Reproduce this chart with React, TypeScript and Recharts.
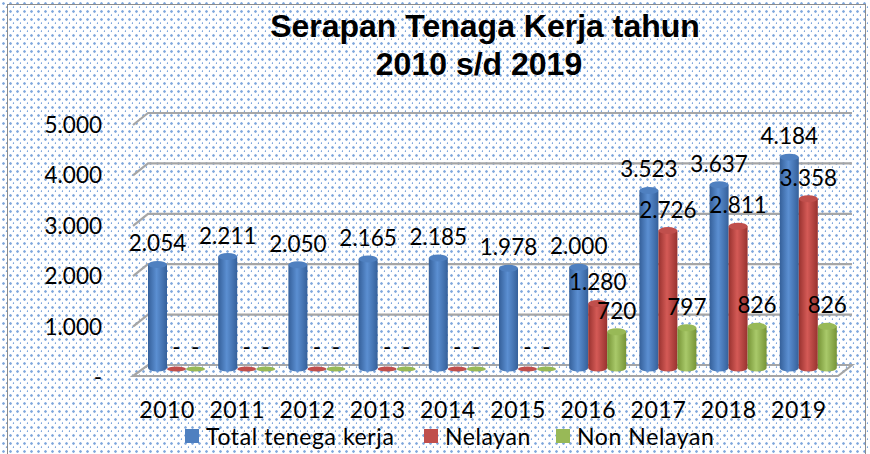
import React from 'react';
import { BarChart, Bar, XAxis, YAxis, CartesianGrid, LabelList, Legend } from 'recharts';

const years = ['2010', '2011', '2012', '2013', '2014', '2015', '2016', '2017', '2018', '2019'];
const totalTenagaKerja = [2054, 2211, 2050, 2165, 2185, 1978, 2000, 3523, 3637, 4184];
const nelayan = [0, 0, 0, 0, 0, 0, 1280, 2726, 2811, 3358];
const nonNelayan = [0, 0, 0, 0, 0, 0, 720, 797, 826, 826];
const yTicks = [0, 1000, 2000, 3000, 4000, 5000];
const seriesNames = ['Total tenega kerja', 'Nelayan', 'Non Nelayan'];

const data = years.map((y, i) => ({
  year: y,
  total: totalTenagaKerja[i],
  nelayan: nelayan[i],
  non: nonNelayan[i],
}));

const FONT = 'Lato, "Liberation Sans", sans-serif';

const palette = {
  blue: { edge: '#35609a', mid: '#5b8fd2', top: '#4f80c0' },
  red: { edge: '#98322f', mid: '#d45a56', top: '#c04f4c' },
  green: { edge: '#769436', mid: '#a9c96a', top: '#98b957' },
};

const fmt = (v: number) => {
  if (!v) return '-';
  const s = String(v);
  return s.length > 3 ? s.slice(0, s.length - 3) + '.' + s.slice(-3) : s;
};

const makeCyl = (key: 'blue' | 'red' | 'green') => (props: any) => {
  const { x, y, width, height } = props;
  if (x == null || width == null) return <g />;
  const rx = width / 2;
  const ry = 3.5;
  const h = Math.max(0, height || 0);
  const bottom = y + h;
  const c = palette[key];
  if (h < 1) {
    return <ellipse cx={x + rx} cy={bottom + 1} rx={rx} ry={2.5} fill={c.top} />;
  }
  return (
    <g>
      <path
        d={`M${x},${y} L${x},${bottom} A${rx},${ry} 0 0 0 ${x + width},${bottom} L${x + width},${y} Z`}
        fill={`url(#grad-${key})`}
      />
      <ellipse cx={x + rx} cy={y} rx={rx} ry={ry} fill={c.top} />
    </g>
  );
};

const renderLabel = (props: any) => {
  const { x, y, width, value } = props;
  return (
    <text x={x + width / 2} y={y - 13} textAnchor="middle" fontSize={22.5} fontFamily={FONT} fill="#000">
      {fmt(value)}
    </text>
  );
};

const gridLine = (props: any) => {
  const { x1, x2, y1, y, height, key } = props;
  const yy = y1;
  const isFloor = y != null && height != null ? Math.abs(yy - (y + height)) < 1.5 : yy > 360;
  const L = x1 - 8;
  const Lb = x1 + 7;
  const R = x2 + 9;
  if (isFloor) {
    return (
      <path
        key={key}
        d={`M${Lb},${yy - 3} L${R},${yy - 3} L${R - 14},${yy + 8} L${L},${yy + 8} Z`}
        fill="none"
        stroke="#a6a6a6"
        strokeWidth={2.2}
      />
    );
  }
  return (
    <path
      key={key}
      d={`M${L},${yy + 9} L${Lb},${yy - 3} L${R},${yy - 3}`}
      fill="none"
      stroke="#a6a6a6"
      strokeWidth={2.2}
    />
  );
};

const YTick = (props: any) => {
  const { x, y, payload } = props;
  return (
    <text x={x} y={y + 17} textAnchor="end" fontSize={22.5} fontFamily={FONT} fill="#000">
      {fmt(payload.value)}
    </text>
  );
};

const XTick = (props: any) => {
  const { x, y, payload } = props;
  return (
    <text x={x - 9} y={y - 1} dy="0.71em" textAnchor="middle" fontSize={23} letterSpacing={0.6} fontFamily={FONT} fill="#000">
      {payload.value}
    </text>
  );
};

const legendColors = [palette.blue.top, palette.red.top, palette.green.top];
const legendLefts = [185, 424, 556];

const LegendContent = () => (
  <div
    style={{
      position: 'relative',
      height: 30,
      fontFamily: FONT,
      fontSize: 23,
      letterSpacing: 0.6,
      color: '#000',
      lineHeight: '24px',
    }}
  >
    {seriesNames.map((n, i) => (
      <div
        key={n}
        style={{ position: 'absolute', left: legendLefts[i], top: 0, display: 'flex', alignItems: 'center', whiteSpace: 'nowrap' }}
      >
        <span style={{ width: 14, height: 14, background: legendColors[i], display: 'inline-block', marginRight: 7 }} />
        <span>{n}</span>
      </div>
    ))}
  </div>
);

export default function App() {
  return (
    <div
      style={{
        position: 'absolute',
        left: 0,
        top: 0,
        width: 870,
        height: 454,
        overflow: 'hidden',
        backgroundColor: '#fff',
        backgroundImage:
          'radial-gradient(circle at 3.5px 3.5px, #7ea6dc 0.9px, rgba(126,166,220,0) 1.6px), radial-gradient(circle at 7px 7.5px, #7ea6dc 0.9px, rgba(126,166,220,0) 1.6px)',
        backgroundSize: '7px 8px',
      }}
    >
      <div
        style={{
          position: 'absolute',
          left: 7,
          top: 4,
          width: 859,
          height: 470,
          border: '1.5px solid #8c8c8c',
          boxSizing: 'border-box',
        }}
      />
      <div
        style={{
          position: 'absolute',
          left: 0,
          top: 7,
          width: 970,
          textAlign: 'center',
          fontFamily: '"Liberation Sans", Arial, sans-serif',
          fontWeight: 'bold',
          fontSize: 32,
          lineHeight: '38px',
          color: '#000',
        }}
      >
        Serapan Tenaga Kerja tahun
        <br />
        <span style={{ position: 'relative', left: -6 }}>2010 s/d 2019</span>
      </div>
      <div style={{ position: 'absolute', left: 0, top: 0 }}>
        <BarChart
          width={870}
          height={454}
          data={data}
          margin={{ top: 116, right: 27, left: 0, bottom: 0 }}
          barCategoryGap={7}
          barGap={0}
        >
          <defs>
            {(['blue', 'red', 'green'] as const).map((k) => (
              <linearGradient key={k} id={`grad-${k}`} x1="0" y1="0" x2="1" y2="0">
                <stop offset="0%" stopColor={palette[k].edge} />
                <stop offset="45%" stopColor={palette[k].mid} />
                <stop offset="100%" stopColor={palette[k].edge} />
              </linearGradient>
            ))}
          </defs>
          <CartesianGrid vertical={false} horizontal={gridLine} />
          <XAxis
            dataKey="year"
            axisLine={false}
            tickLine={false}
            tickSize={0}
            tickMargin={35}
            height={56}
            tick={<XTick />}
            interval={0}
          />
          <YAxis
            width={141}
            domain={[0, 5000]}
            ticks={yTicks}
            axisLine={false}
            tickLine={false}
            tickSize={0}
            tickMargin={39}
            tick={<YTick />}
            interval={0}
          />
          <Legend verticalAlign="bottom" height={30} content={<LegendContent />} />
          <Bar dataKey="total" name={seriesNames[0]} shape={makeCyl('blue')} isAnimationActive={false}>
            <LabelList dataKey="total" content={renderLabel} />
          </Bar>
          <Bar dataKey="nelayan" name={seriesNames[1]} shape={makeCyl('red')} isAnimationActive={false}>
            <LabelList dataKey="nelayan" content={renderLabel} />
          </Bar>
          <Bar dataKey="non" name={seriesNames[2]} shape={makeCyl('green')} isAnimationActive={false}>
            <LabelList dataKey="non" content={renderLabel} />
          </Bar>
        </BarChart>
      </div>
    </div>
  );
}
